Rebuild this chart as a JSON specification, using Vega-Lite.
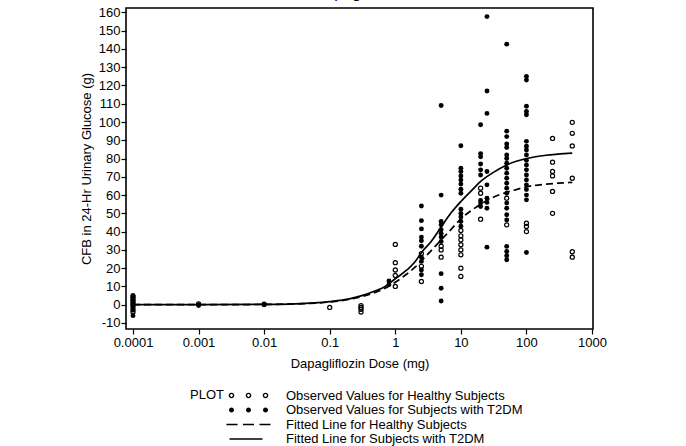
{
  "$schema": "https://vega.github.io/schema/vega-lite/v6.json",
  "width": 467,
  "height": 321,
  "autosize": {"type": "none"},
  "padding": {"left": 126, "top": 8, "right": 93, "bottom": 117},
  "background": "white",
  "title": {"text": "Dapagliflozin", "fontSize": 16, "font": "Liberation Sans Narrow, sans-serif", "fontWeight": "normal", "color": "black", "offset": 5, "anchor": "middle"},
  "datasets": {
    "obs": [
      {"d":0.0001,"v":3,"g":"H"},{"d":0.0001,"v":1.5,"g":"H"},{"d":0.0001,"v":0,"g":"H"},{"d":0.0001,"v":-2,"g":"H"},{"d":0.0001,"v":-4,"g":"H"},{"d":0.0001,"v":4.5,"g":"H"},
      {"d":0.001,"v":0.5,"g":"H"},{"d":0.01,"v":0.3,"g":"H"},{"d":0.1,"v":-1.5,"g":"H"},
      {"d":0.3,"v":-0.5,"g":"H"},{"d":0.3,"v":-1.5,"g":"H"},{"d":0.3,"v":-2.5,"g":"H"},{"d":0.3,"v":-4,"g":"H"},
      {"d":1,"v":33,"g":"H"},{"d":1,"v":23,"g":"H"},{"d":1,"v":19,"g":"H"},{"d":1,"v":16,"g":"H"},{"d":1,"v":10,"g":"H"},
      {"d":2.5,"v":12.7,"g":"H"},{"d":2.5,"v":21,"g":"H"},{"d":2.5,"v":28,"g":"H"},
      {"d":5,"v":32,"g":"H"},{"d":5,"v":30,"g":"H"},{"d":5,"v":26,"g":"H"},
      {"d":10,"v":40.6,"g":"H"},{"d":10,"v":37.7,"g":"H"},{"d":10,"v":35.5,"g":"H"},{"d":10,"v":32.8,"g":"H"},{"d":10,"v":30,"g":"H"},{"d":10,"v":27.3,"g":"H"},{"d":10,"v":20,"g":"H"},{"d":10,"v":15.5,"g":"H"},
      {"d":20,"v":63.8,"g":"H"},{"d":20,"v":61,"g":"H"},{"d":20,"v":46.8,"g":"H"},
      {"d":50,"v":58.3,"g":"H"},{"d":50,"v":43.7,"g":"H"},
      {"d":100,"v":44.6,"g":"H"},{"d":100,"v":42.8,"g":"H"},{"d":100,"v":40,"g":"H"},
      {"d":250,"v":91,"g":"H"},{"d":250,"v":78,"g":"H"},{"d":250,"v":72.9,"g":"H"},{"d":250,"v":70.5,"g":"H"},{"d":250,"v":62,"g":"H"},{"d":250,"v":50,"g":"H"},
      {"d":500,"v":99.8,"g":"H"},{"d":500,"v":93.8,"g":"H"},{"d":500,"v":86.9,"g":"H"},{"d":500,"v":69.2,"g":"H"},{"d":500,"v":29,"g":"H"},{"d":500,"v":26,"g":"H"},
      {"d":0.0001,"v":5,"g":"T"},{"d":0.0001,"v":4,"g":"T"},{"d":0.0001,"v":2.5,"g":"T"},{"d":0.0001,"v":1,"g":"T"},{"d":0.0001,"v":0,"g":"T"},{"d":0.0001,"v":-1,"g":"T"},{"d":0.0001,"v":-3,"g":"T"},{"d":0.0001,"v":-6,"g":"T"},
      {"d":0.001,"v":0,"g":"T"},{"d":0.001,"v":-0.5,"g":"T"},{"d":0.01,"v":0,"g":"T"},
      {"d":0.8,"v":11,"g":"T"},{"d":0.8,"v":13,"g":"T"},
      {"d":2.5,"v":54,"g":"T"},{"d":2.5,"v":46,"g":"T"},{"d":2.5,"v":41.5,"g":"T"},{"d":2.5,"v":37,"g":"T"},{"d":2.5,"v":35,"g":"T"},{"d":2.5,"v":32,"g":"T"},{"d":2.5,"v":26,"g":"T"},{"d":2.5,"v":23.7,"g":"T"},{"d":2.5,"v":19,"g":"T"},{"d":2.5,"v":16.4,"g":"T"},
      {"d":5,"v":109,"g":"T"},{"d":5,"v":60,"g":"T"},{"d":5,"v":45.5,"g":"T"},{"d":5,"v":43.7,"g":"T"},{"d":5,"v":41,"g":"T"},{"d":5,"v":39,"g":"T"},{"d":5,"v":37,"g":"T"},{"d":5,"v":34.6,"g":"T"},{"d":5,"v":17,"g":"T"},{"d":5,"v":9,"g":"T"},{"d":5,"v":2,"g":"T"},
      {"d":10,"v":87,"g":"T"},{"d":10,"v":74.7,"g":"T"},{"d":10,"v":72.9,"g":"T"},{"d":10,"v":70.5,"g":"T"},{"d":10,"v":68.3,"g":"T"},{"d":10,"v":66,"g":"T"},{"d":10,"v":63.2,"g":"T"},{"d":10,"v":61,"g":"T"},{"d":10,"v":52.3,"g":"T"},{"d":10,"v":50,"g":"T"},{"d":10,"v":48,"g":"T"},{"d":10,"v":45.5,"g":"T"},{"d":10,"v":43,"g":"T"},
      {"d":20,"v":98.5,"g":"T"},{"d":20,"v":82.7,"g":"T"},{"d":20,"v":81,"g":"T"},{"d":20,"v":77,"g":"T"},{"d":20,"v":73.8,"g":"T"},{"d":20,"v":71,"g":"T"},{"d":20,"v":57,"g":"T"},{"d":20,"v":55.6,"g":"T"},{"d":20,"v":53.7,"g":"T"},
      {"d":25,"v":157.7,"g":"T"},{"d":25,"v":117,"g":"T"},{"d":25,"v":104.7,"g":"T"},{"d":25,"v":72.9,"g":"T"},{"d":25,"v":65.6,"g":"T"},{"d":25,"v":58.3,"g":"T"},{"d":25,"v":56,"g":"T"},{"d":25,"v":52.8,"g":"T"},{"d":25,"v":31.5,"g":"T"},
      {"d":50,"v":142.6,"g":"T"},{"d":50,"v":95,"g":"T"},{"d":50,"v":92,"g":"T"},{"d":50,"v":88,"g":"T"},{"d":50,"v":86,"g":"T"},{"d":50,"v":82,"g":"T"},{"d":50,"v":80,"g":"T"},{"d":50,"v":77.4,"g":"T"},{"d":50,"v":74.7,"g":"T"},{"d":50,"v":72,"g":"T"},{"d":50,"v":69.2,"g":"T"},{"d":50,"v":66.5,"g":"T"},{"d":50,"v":63.8,"g":"T"},{"d":50,"v":61,"g":"T"},{"d":50,"v":55.6,"g":"T"},{"d":50,"v":52.8,"g":"T"},{"d":50,"v":49.2,"g":"T"},{"d":50,"v":46.4,"g":"T"},{"d":50,"v":31.9,"g":"T"},{"d":50,"v":29.1,"g":"T"},{"d":50,"v":26.8,"g":"T"},{"d":50,"v":24.6,"g":"T"},
      {"d":100,"v":125,"g":"T"},{"d":100,"v":123,"g":"T"},{"d":100,"v":108.6,"g":"T"},{"d":100,"v":105.8,"g":"T"},{"d":100,"v":104,"g":"T"},{"d":100,"v":89.4,"g":"T"},{"d":100,"v":86.7,"g":"T"},{"d":100,"v":84.7,"g":"T"},{"d":100,"v":82,"g":"T"},{"d":100,"v":79,"g":"T"},{"d":100,"v":76.5,"g":"T"},{"d":100,"v":73.8,"g":"T"},{"d":100,"v":71,"g":"T"},{"d":100,"v":68.3,"g":"T"},{"d":100,"v":65.6,"g":"T"},{"d":100,"v":63,"g":"T"},{"d":100,"v":60,"g":"T"},{"d":100,"v":57.4,"g":"T"},{"d":100,"v":28.6,"g":"T"}
    ],
    "fit": [
      {"d":0.0001,"v":0,"g":"T"},{"d":0.001,"v":0,"g":"T"},{"d":0.01,"v":0.2,"g":"T"},{"d":0.03,"v":0.5,"g":"T"},{"d":0.1,"v":1.7,"g":"T"},{"d":0.2,"v":3.2,"g":"T"},{"d":0.3,"v":4.8,"g":"T"},{"d":0.5,"v":7.6,"g":"T"},{"d":0.7,"v":10,"g":"T"},{"d":1,"v":14.2,"g":"T"},{"d":1.5,"v":19,"g":"T"},{"d":2,"v":23.5,"g":"T"},{"d":2.5,"v":28.5,"g":"T"},{"d":3.5,"v":34.5,"g":"T"},{"d":5,"v":42.5,"g":"T"},{"d":7,"v":50,"g":"T"},{"d":10,"v":56.5,"g":"T"},{"d":15,"v":63,"g":"T"},{"d":20,"v":67.5,"g":"T"},{"d":30,"v":72,"g":"T"},{"d":50,"v":76.5,"g":"T"},{"d":70,"v":78.5,"g":"T"},{"d":100,"v":80,"g":"T"},{"d":200,"v":81.8,"g":"T"},{"d":300,"v":82.4,"g":"T"},{"d":500,"v":83,"g":"T"},
      {"d":0.0001,"v":0,"g":"H"},{"d":0.001,"v":0,"g":"H"},{"d":0.01,"v":0.15,"g":"H"},{"d":0.03,"v":0.45,"g":"H"},{"d":0.1,"v":1.5,"g":"H"},{"d":0.2,"v":2.9,"g":"H"},{"d":0.3,"v":4.3,"g":"H"},{"d":0.5,"v":6.8,"g":"H"},{"d":0.7,"v":9,"g":"H"},{"d":1,"v":12.3,"g":"H"},{"d":1.5,"v":16.8,"g":"H"},{"d":2,"v":20.5,"g":"H"},{"d":2.5,"v":24,"g":"H"},{"d":3.5,"v":29.5,"g":"H"},{"d":5,"v":35.5,"g":"H"},{"d":7,"v":41,"g":"H"},{"d":10,"v":47,"g":"H"},{"d":15,"v":52,"g":"H"},{"d":20,"v":55,"g":"H"},{"d":30,"v":58.5,"g":"H"},{"d":50,"v":61.5,"g":"H"},{"d":70,"v":63,"g":"H"},{"d":100,"v":64.5,"g":"H"},{"d":200,"v":66,"g":"H"},{"d":300,"v":66.5,"g":"H"},{"d":500,"v":67,"g":"H"}
    ],
    "leg": [
      {"label": "Observed Values for Healthy Subjects"},
      {"label": "Observed Values for Subjects with T2DM"},
      {"label": "Fitted Line for Healthy Subjects"},
      {"label": "Fitted Line for Subjects with T2DM"}
    ]
  },
  "encoding": {
    "x": {
      "field": "d", "type": "quantitative",
      "scale": {"type": "log", "domain": [0.0000782, 1035], "nice": false},
      "axis": {"values": [0.0001, 0.001, 0.01, 0.1, 1, 10, 100, 1000], "labelExpr": "'' + datum.value", "title": "Dapagliflozin Dose (mg)", "titlePadding": 8, "labelFlush": false, "labelOverlap": false}
    },
    "y": {
      "field": "v", "type": "quantitative",
      "scale": {"domain": [-13.3, 162.4], "nice": false, "zero": false},
      "axis": {"values": [-10, 0, 10, 20, 30, 40, 50, 60, 70, 80, 90, 100, 110, 120, 130, 140, 150, 160], "labelExpr": "'' + datum.value", "title": "CFB in 24-Hr Urinary Glucose (g)", "titlePadding": 5, "labelPadding": 1, "labelOverlap": false, "labelFlush": false}
    }
  },
  "layer": [
    {
      "data": {"name": "fit"},
      "transform": [{"filter": "datum.g === 'H'"}],
      "mark": {"type": "line", "color": "black", "strokeWidth": 1.7, "strokeDash": [7, 4], "interpolate": "monotone"}
    },
    {
      "data": {"name": "fit"},
      "transform": [{"filter": "datum.g === 'T'"}],
      "mark": {"type": "line", "color": "black", "strokeWidth": 1.7, "interpolate": "monotone"}
    },
    {
      "data": {"name": "obs"},
      "transform": [{"filter": "datum.g === 'H'"}],
      "mark": {"type": "point", "shape": "circle", "filled": false, "stroke": "black", "strokeWidth": 1.2, "size": 17, "opacity": 1}
    },
    {
      "data": {"name": "obs"},
      "transform": [{"filter": "datum.g === 'T'"}],
      "mark": {"type": "circle", "color": "black", "size": 24, "opacity": 1}
    },
    {
      "data": {"name": "leg"},
      "mark": {"type": "point", "filled": true, "color": "black", "opacity": 0},
      "encoding": {
        "x": {"value": 0},
        "y": {"value": 0},
        "shape": {
          "field": "label", "type": "nominal",
          "scale": {
            "domain": ["Observed Values for Healthy Subjects", "Observed Values for Subjects with T2DM", "Fitted Line for Healthy Subjects", "Fitted Line for Subjects with T2DM"],
            "range": [
              "M-3.96,0A0.56,0.56 0 1,0 -2.84,0A0.56,0.56 0 1,0 -3.96,0ZM-3.68,0A0.28,0.28 0 1,1 -3.12,0A0.28,0.28 0 1,1 -3.68,0ZM-0.56,0A0.56,0.56 0 1,0 0.56,0A0.56,0.56 0 1,0 -0.56,0ZM-0.28,0A0.28,0.28 0 1,1 0.28,0A0.28,0.28 0 1,1 -0.28,0ZM2.84,0A0.56,0.56 0 1,0 3.96,0A0.56,0.56 0 1,0 2.84,0ZM3.12,0A0.28,0.28 0 1,1 3.68,0A0.28,0.28 0 1,1 3.12,0Z",
              "M-3.9,0A0.5,0.5 0 1,0 -2.9,0A0.5,0.5 0 1,0 -3.9,0ZM-0.5,0A0.5,0.5 0 1,0 0.5,0A0.5,0.5 0 1,0 -0.5,0ZM2.9,0A0.5,0.5 0 1,0 3.9,0A0.5,0.5 0 1,0 2.9,0Z",
              "M-4.4,-0.16L-2.2,-0.16L-2.2,0.16L-4.4,0.16ZM-1.1,-0.16L1.1,-0.16L1.1,0.16L-1.1,0.16ZM2.2,-0.16L4.4,-0.16L4.4,0.16L2.2,0.16Z",
              "M-3.8,-0.16L2.8,-0.16L2.8,0.16L-3.8,0.16Z"
            ]
          },
          "legend": {
            "title": "PLOT",
            "orient": "none",
            "legendX": 64,
            "legendY": 381,
            "direction": "vertical",
            "titleOrient": "left",
            "titleAnchor": "start",
            "titlePadding": 18,
            "symbolOpacity": 1,
            "symbolSize": 100,
            "symbolFillColor": "black",
            "symbolStrokeWidth": 0,
            "labelOffset": 31,
            "rowPadding": 0.5
          }
        }
      }
    }
  ],
  "config": {
    "font": "Liberation Sans Narrow, sans-serif",
    "view": {"stroke": "black", "strokeWidth": 1.6},
    "axis": {"domain": false, "grid": false, "tickColor": "black", "tickSize": 5, "tickWidth": 1.2, "labelColor": "black", "labelFontSize": 13, "labelFont": "Liberation Sans Narrow, sans-serif", "titleFont": "Liberation Sans Narrow, sans-serif", "titleFontSize": 13, "titleFontWeight": "normal", "titleColor": "black", "labelPadding": 2},
    "legend": {"labelFont": "Liberation Sans Narrow, sans-serif", "titleFont": "Liberation Sans Narrow, sans-serif", "labelFontSize": 13, "titleFontSize": 13, "titleFontWeight": "normal", "labelColor": "black", "titleColor": "black", "labelLimit": 400}
  }
}
